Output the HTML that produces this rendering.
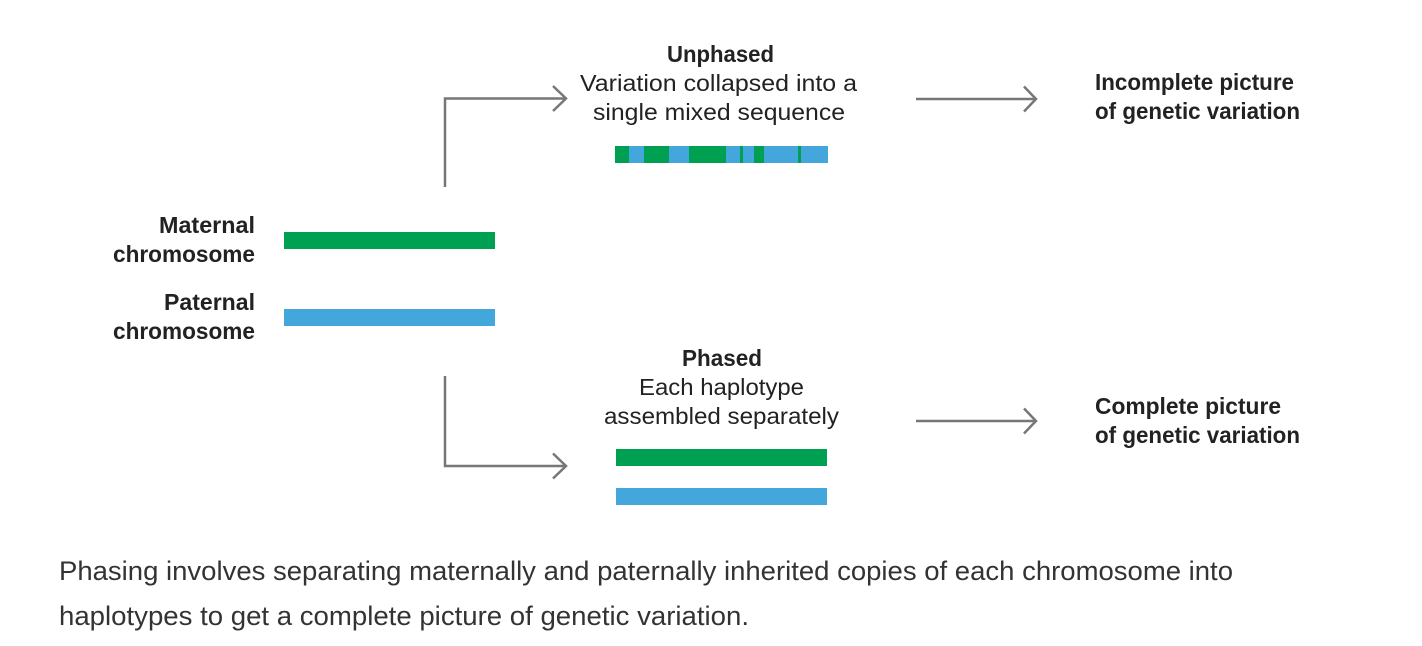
<!DOCTYPE html>
<html>
<head>
<meta charset="utf-8">
<style>
  html, body { margin: 0; padding: 0; background: #ffffff; }
  body { width: 1422px; height: 646px; overflow: hidden; }
  svg { display: block; }
  text { font-family: "Liberation Sans", Arial, sans-serif; fill: #222222; }
  .b { font-weight: bold; font-size: 23px; }
  .r { font-size: 23px; }
  .c { font-size: 26.5px; fill: #333333; }
</style>
</head>
<body>
<svg width="1422" height="646" viewBox="0 0 1422 646" xmlns="http://www.w3.org/2000/svg">
  <!-- Left labels -->
  <text class="b" x="159" y="233" textLength="96" lengthAdjust="spacingAndGlyphs">Maternal</text>
  <text class="b" x="113" y="262" textLength="142" lengthAdjust="spacingAndGlyphs">chromosome</text>
  <text class="b" x="164" y="310" textLength="91" lengthAdjust="spacingAndGlyphs">Paternal</text>
  <text class="b" x="113" y="339" textLength="142" lengthAdjust="spacingAndGlyphs">chromosome</text>

  <!-- Chromosome bars -->
  <rect x="284" y="232" width="211" height="17" fill="#00a052"/>
  <rect x="284" y="309" width="211" height="17" fill="#43a7dc"/>

  <!-- Connectors -->
  <g fill="none" stroke="#777777" stroke-width="2.5">
    <polyline points="445,187 445,98.5 566,98.5"/>
    <polyline points="553,86 566,98.5 553,111"/>
    <polyline points="445,376 445,466 566,466"/>
    <polyline points="553,453.5 566,466 553,478.5"/>
    <line x1="916" y1="99" x2="1036" y2="99"/>
    <polyline points="1024,86.5 1036,99 1024,111.5"/>
    <line x1="916" y1="421" x2="1036" y2="421"/>
    <polyline points="1024,408.5 1036,421 1024,433.5"/>
  </g>

  <!-- Unphased text -->
  <text class="b" x="667" y="62" textLength="107" lengthAdjust="spacingAndGlyphs">Unphased</text>
  <text class="r" x="580" y="91" textLength="277" lengthAdjust="spacingAndGlyphs">Variation collapsed into a</text>
  <text class="r" x="593" y="120" textLength="252" lengthAdjust="spacingAndGlyphs">single mixed sequence</text>

  <!-- Mixed bar -->
  <g>
    <rect x="615" y="146" width="213" height="17" fill="#43a7dc"/>
    <rect x="615" y="146" width="14" height="17" fill="#00a052"/>
    <rect x="644" y="146" width="25" height="17" fill="#00a052"/>
    <rect x="689" y="146" width="37" height="17" fill="#00a052"/>
    <rect x="740" y="146" width="3" height="17" fill="#00a052"/>
    <rect x="754" y="146" width="10" height="17" fill="#00a052"/>
    <rect x="798" y="146" width="3" height="17" fill="#00a052"/>
  </g>

  <!-- Phased text -->
  <text class="b" x="682" y="366" textLength="80" lengthAdjust="spacingAndGlyphs">Phased</text>
  <text class="r" x="639" y="395" textLength="165" lengthAdjust="spacingAndGlyphs">Each haplotype</text>
  <text class="r" x="604" y="424" textLength="235" lengthAdjust="spacingAndGlyphs">assembled separately</text>

  <!-- Phased bars -->
  <rect x="616" y="449" width="211" height="17" fill="#00a052"/>
  <rect x="616" y="488" width="211" height="17" fill="#43a7dc"/>

  <!-- Right labels -->
  <text class="b" x="1095" y="90" textLength="199" lengthAdjust="spacingAndGlyphs">Incomplete picture</text>
  <text class="b" x="1095" y="119" textLength="205" lengthAdjust="spacingAndGlyphs">of genetic variation</text>
  <text class="b" x="1095" y="414" textLength="186" lengthAdjust="spacingAndGlyphs">Complete picture</text>
  <text class="b" x="1095" y="443" textLength="205" lengthAdjust="spacingAndGlyphs">of genetic variation</text>

  <!-- Caption -->
  <text class="c" x="59" y="580" textLength="1174" lengthAdjust="spacingAndGlyphs">Phasing involves separating maternally and paternally inherited copies of each chromosome into</text>
  <text class="c" x="59" y="625" textLength="690" lengthAdjust="spacingAndGlyphs">haplotypes to get a complete picture of genetic variation.</text>
</svg>
</body>
</html>
